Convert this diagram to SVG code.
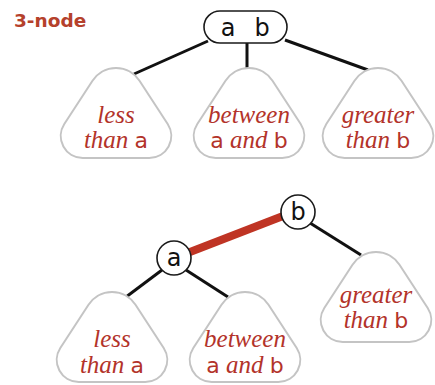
<svg xmlns="http://www.w3.org/2000/svg" width="435" height="385" viewBox="0 0 435 385">
  <style>
    .tree { fill: #ffffff; stroke: #c4c4c4; stroke-width: 2; }
    .node { fill: #ffffff; stroke: #1a1a1a; stroke-width: 1.6; }
    .edge { stroke: #111111; stroke-width: 3; fill: none; }
    .red { stroke: #bf3424; stroke-width: 8; fill: none; }
    .lbl { font-family: "DejaVu Sans", sans-serif; font-size: 24px; fill: #111111; text-anchor: middle; }
    .sub { font-family: "Liberation Serif", serif; font-size: 25px; fill: #b3332a; text-anchor: middle; }
    .it { font-style: italic; }
    .sans { font-family: "DejaVu Sans", sans-serif; font-size: 22px; font-style: normal; }
    .title { font-family: "DejaVu Sans", sans-serif; font-weight: bold; font-size: 18.5px; fill: #b5412c; }
  </style>
  <defs>
    <!-- rounded triangle for a subtree, apex at origin -->
    <path id="subtree" class="tree" d="M -23.5,12.7 A 28 28 0 0 1 23.5,12.7 L 51.7,56 A 22 22 0 0 1 33.3,90 L -33.3,90 A 22 22 0 0 1 -51.7,56 Z"/>
  </defs>

  <text class="title" x="14" y="27">3-node</text>

  <g id="connectors">
    <line class="edge" x1="208" y1="41" x2="134" y2="74"/>
    <line class="edge" x1="247" y1="43" x2="247" y2="68"/>
    <line class="edge" x1="285" y1="40" x2="368" y2="70"/>
    <line class="red" x1="190" y1="252" x2="283" y2="216"/>
    <line class="edge" x1="310" y1="223" x2="361" y2="255"/>
    <line class="edge" x1="162" y1="270" x2="126" y2="297"/>
    <line class="edge" x1="186" y1="270" x2="228" y2="297"/>
  </g>

  <g id="node-ab">
    <rect class="node" x="204" y="11" width="83" height="32" rx="16" ry="16"/>
    <text class="lbl" x="228" y="36">a</text>
    <text class="lbl" x="262" y="36">b</text>
  </g>

  <g id="tree-less-top">
    <use href="#subtree" x="116" y="68"/>
    <text class="sub" x="116" y="123"><tspan class="it">less</tspan></text>
    <text class="sub" x="116" y="148"><tspan class="it">than</tspan> <tspan class="sans">a</tspan></text>
  </g>
  <g id="tree-between-top">
    <use href="#subtree" x="249" y="68"/>
    <text class="sub" x="249" y="123"><tspan class="it">between</tspan></text>
    <text class="sub" x="249" y="148"><tspan class="sans">a</tspan> <tspan class="it">and</tspan> <tspan class="sans">b</tspan></text>
  </g>
  <g id="tree-greater-top">
    <use href="#subtree" x="378" y="68"/>
    <text class="sub" x="378" y="123"><tspan class="it">greater</tspan></text>
    <text class="sub" x="378" y="148"><tspan class="it">than</tspan> <tspan class="sans">b</tspan></text>
  </g>

  <g id="node-b">
    <circle class="node" cx="298" cy="212" r="17"/>
    <text class="lbl" x="298" y="220">b</text>
  </g>
  <g id="node-a">
    <circle class="node" cx="174" cy="258" r="17"/>
    <text class="lbl" x="174" y="266">a</text>
  </g>

  <g id="tree-less-bottom">
    <use href="#subtree" x="112" y="292"/>
    <text class="sub" x="112" y="347"><tspan class="it">less</tspan></text>
    <text class="sub" x="112" y="373"><tspan class="it">than</tspan> <tspan class="sans">a</tspan></text>
  </g>
  <g id="tree-between-bottom">
    <use href="#subtree" x="245" y="292"/>
    <text class="sub" x="245" y="347"><tspan class="it">between</tspan></text>
    <text class="sub" x="245" y="373"><tspan class="sans">a</tspan> <tspan class="it">and</tspan> <tspan class="sans">b</tspan></text>
  </g>
  <g id="tree-greater-bottom">
    <use href="#subtree" x="376" y="252"/>
    <text class="sub" x="376" y="303"><tspan class="it">greater</tspan></text>
    <text class="sub" x="376" y="328"><tspan class="it">than</tspan> <tspan class="sans">b</tspan></text>
  </g>
</svg>
